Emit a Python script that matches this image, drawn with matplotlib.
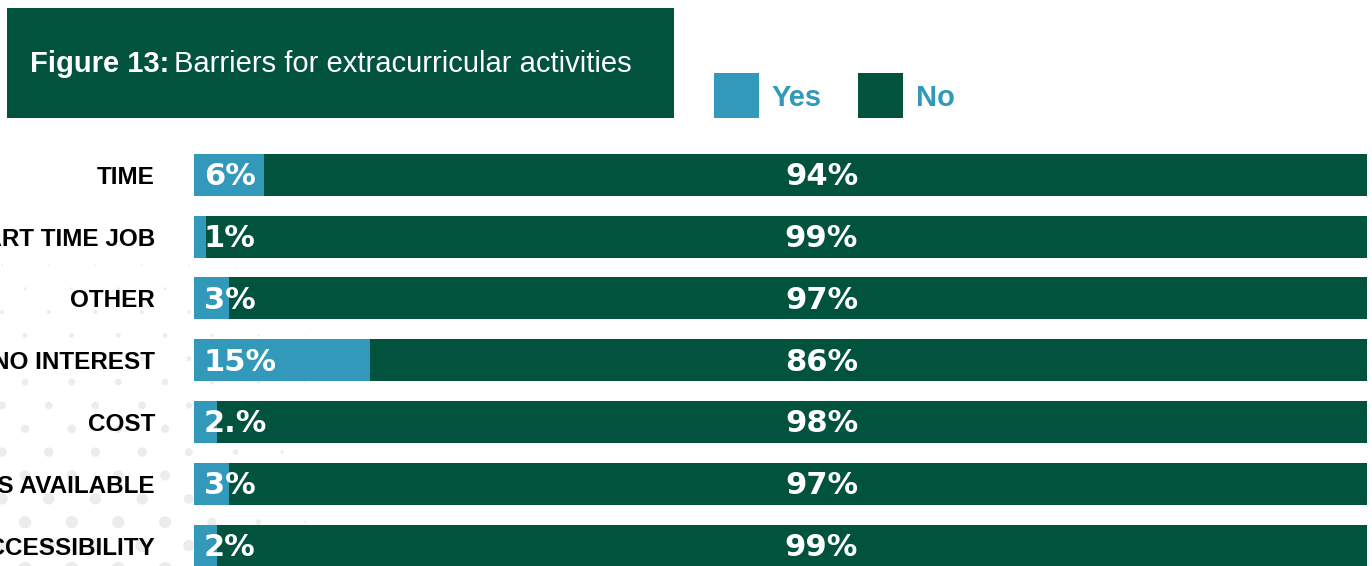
import numpy as np
import matplotlib.pyplot as plt
from matplotlib.patches import Rectangle

# survey results, percent of respondents
categories = ["TIME", "PART TIME JOB", "OTHER", "NO INTEREST", "COST",
              "NO ACTIVITIES AVAILABLE", "ACCESSIBILITY"]
yes_vals = [6, 1, 3, 15, 2, 3, 2]
no_vals = [94, 99, 97, 86, 98, 97, 99]
yes_text = ["6%", "1%", "3%", "15%", "2.%", "3%", "2%"]
no_text = ["94%", "99%", "97%", "86%", "98%", "97%", "99%"]

GREEN = "#02533d"
BLUE = "#3399bb"
W, H = 1372, 566

fig = plt.figure(figsize=(W / 100, H / 100), dpi=100)

# dotted backdrop in pixel coordinates
bg = fig.add_axes([0, 0, 1, 1], zorder=-1)
bg.set_xlim(0, W)
bg.set_ylim(H, 0)
bg.axis("off")
dx, dy = 46.7, 23.35
xs, ys, ds = [], [], []
for k in range(16):
    y = 242 + dy * k
    off = 25 if k % 2 == 0 else 2
    for j in range(9):
        x = off + dx * j
        d = 0.04 * (y - 215) * np.clip((350 - x) / 190, 0, 1)
        if d > 0.8:
            xs.append(x)
            ys.append(y)
            ds.append(d)
bg.scatter(xs, ys, s=(np.array(ds) * 0.72) ** 2, color="#ececec", lw=0)

# bar chart
ax = fig.add_axes([194 / W, 0, (1367 - 194) / W, (H - 144) / H])
pos = np.arange(len(categories))
ax.barh(pos, yes_vals, height=0.68, color=BLUE, lw=0)
ax.barh(pos, no_vals, left=yes_vals, height=0.68, color=GREEN, lw=0)
ax.set_xlim(0, 100)
ax.set_ylim(6.33, -0.5)
ax.set_yticks(pos)
ax.set_yticklabels(categories, fontsize=17.5, fontweight="bold",
                   family="Liberation Sans", color="black")
ax.tick_params(axis="y", length=0, pad=28)
for lab in ax.get_yticklabels():
    lab.set_y(lab.get_position()[1])
ax.set_xticks([])
for s in ax.spines.values():
    s.set_visible(False)
ax.patch.set_alpha(0)

for i in pos:
    ax.text(0.85, i + 0.03, yes_text[i], color="white", fontsize=22,
            fontweight="bold", family="DejaVu Sans", ha="left", va="center")
    ax.text(53.5, i + 0.03, no_text[i], color="white", fontsize=22,
            fontweight="bold", family="DejaVu Sans", ha="center", va="center")

# title box
fig.add_artist(Rectangle((7 / W, 1 - 118 / H), 667 / W, 110 / H,
                         transform=fig.transFigure, color=GREEN, lw=0))
t1 = fig.text(30 / W, 1 - 64 / H, "Figure 13:", color="white", fontsize=21,
              fontweight="bold", family="Liberation Sans",
              va="center", ha="left")
fig.canvas.draw()
bb = t1.get_window_extent()
fig.text(bb.x1 / W + 5 / W, 1 - 64 / H, "Barriers for extracurricular activities",
         color="white", fontsize=21, family="Liberation Sans",
         va="center", ha="left")

# legend
for x0, label, col in [(714, "Yes", BLUE), (858, "No", GREEN)]:
    fig.add_artist(Rectangle((x0 / W, 1 - 118 / H), 45 / W, 45 / H,
                             transform=fig.transFigure, color=col, lw=0))
    fig.text((x0 + 58) / W, 1 - 98 / H, label, color=BLUE, fontsize=21,
             fontweight="bold", family="Liberation Sans", va="center", ha="left")

fig.savefig("out.png", dpi=100)
